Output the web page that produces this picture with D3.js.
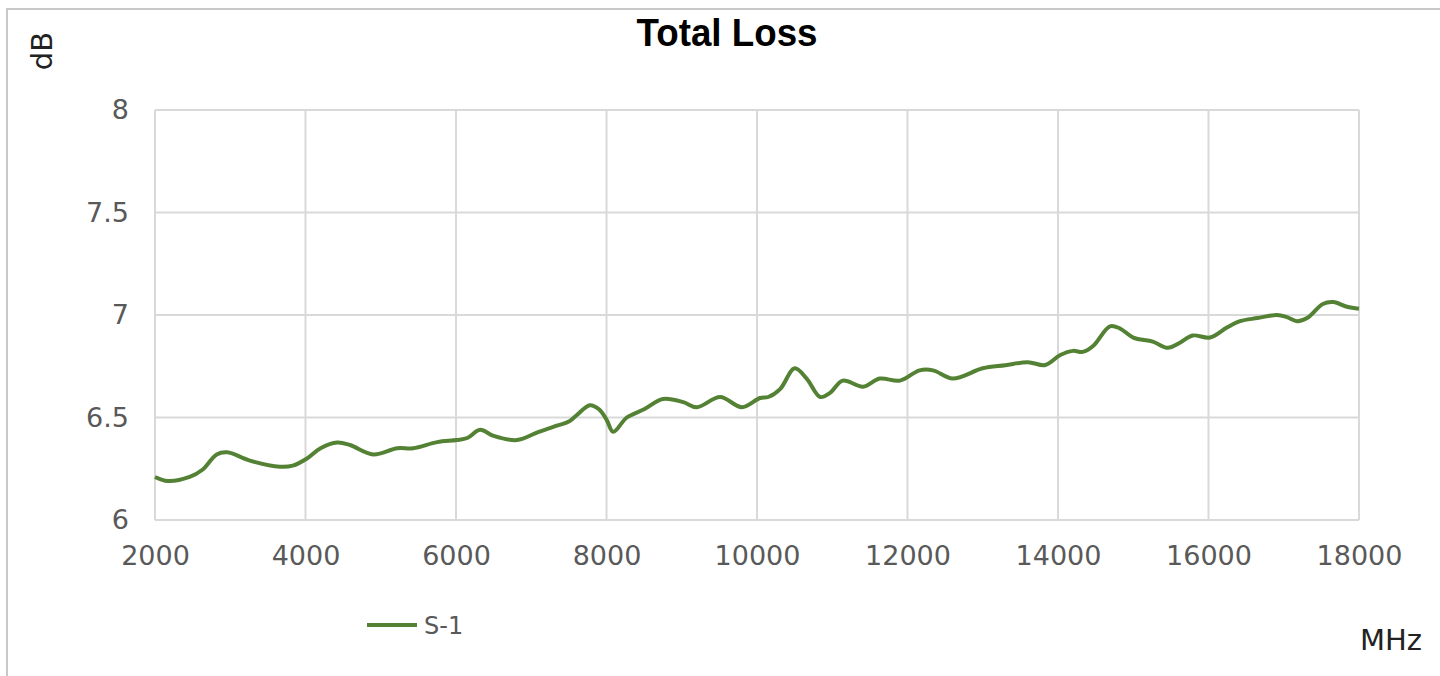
<!DOCTYPE html>
<html>
<head>
<meta charset="utf-8">
<script src="https://cdn.jsdelivr.net/npm/d3@7"></script>
<style>
  body { margin: 0; background: #fff; }
  #chart-area { width: 1440px; height: 676px; }
</style>
</head>
<body>
<div id="chart-area"></div>
<script>
// data (MHz, dB)
var freq = [2000, 2170, 2460, 2630, 2820, 2960, 3260, 3660, 3830, 4020, 4200, 4420, 4590, 4900, 5220, 5430, 5750, 6010, 6150, 6320, 6500, 6810, 7100, 7340, 7500, 7600, 7780, 7900, 8000, 8090, 8270, 8500, 8750, 9020, 9200, 9510, 9800, 10040, 10150, 10310, 10500, 10660, 10840, 10970, 11140, 11410, 11630, 11900, 12160, 12340, 12600, 13000, 13300, 13600, 13830, 14030, 14200, 14330, 14470, 14690, 14820, 15000, 15260, 15460, 15620, 15790, 16020, 16250, 16420, 16650, 16910, 17040, 17180, 17310, 17520, 17660, 17840, 18000];
var loss = [6.21, 6.19, 6.21, 6.245, 6.32, 6.33, 6.29, 6.26, 6.265, 6.30, 6.35, 6.378, 6.366, 6.32, 6.35, 6.35, 6.38, 6.39, 6.40, 6.44, 6.41, 6.39, 6.43, 6.46, 6.48, 6.51, 6.56, 6.54, 6.49, 6.43, 6.50, 6.54, 6.59, 6.575, 6.55, 6.60, 6.55, 6.595, 6.60, 6.64, 6.74, 6.69, 6.60, 6.62, 6.68, 6.65, 6.69, 6.68, 6.73, 6.73, 6.69, 6.74, 6.755, 6.77, 6.756, 6.805, 6.825, 6.82, 6.85, 6.945, 6.935, 6.89, 6.87, 6.84, 6.865, 6.90, 6.89, 6.94, 6.97, 6.985, 7.00, 6.99, 6.97, 6.985, 7.054, 7.063, 7.04, 7.03];
var xTicks = [2000, 4000, 6000, 8000, 10000, 12000, 14000, 16000, 18000];
var yTicks = [6, 6.5, 7, 7.5, 8];
var seriesName = 'S-1';
var title = 'Total Loss';

var width = 1440;
var height = 676;
var lineColor = '#548235';
var gridColor = '#d9d9d9';
var labelColor = '#595959';

var svg = d3.select('#chart-area').append('svg')
  .attr('width', width)
  .attr('height', height);

// outer chart frame
svg.append('rect')
  .attr('x', 7)
  .attr('y', 9)
  .attr('width', width + 20)
  .attr('height', height + 20)
  .attr('fill', 'none')
  .attr('stroke', '#c8c8c8')
  .attr('stroke-width', 2);

// scales
var x = d3.scaleLinear().domain([2000, 18000]).range([155, 1359]);
var y = d3.scaleLinear().domain([6, 8]).range([520, 110]);

// gridlines
svg.append('g')
  .selectAll('line.vgrid')
  .data(xTicks)
  .enter().append('line')
  .attr('class', 'vgrid')
  .attr('x1', d => x(d))
  .attr('x2', d => x(d))
  .attr('y1', y(8))
  .attr('y2', y(6))
  .attr('stroke', gridColor)
  .attr('stroke-width', 2);

svg.append('g')
  .selectAll('line.hgrid')
  .data(yTicks)
  .enter().append('line')
  .attr('class', 'hgrid')
  .attr('x1', x(2000))
  .attr('x2', x(18000))
  .attr('y1', d => y(d))
  .attr('y2', d => y(d))
  .attr('stroke', gridColor)
  .attr('stroke-width', 2);

// axes (labels only, gridlines do the rest)
var xAxis = svg.append('g')
  .attr('transform', 'translate(0,' + y(6) + ')')
  .call(d3.axisBottom(x).tickValues(xTicks).tickSize(0).tickPadding(26).tickFormat(d3.format('d')));
var yAxis = svg.append('g')
  .attr('transform', 'translate(' + x(2000) + ',0)')
  .call(d3.axisLeft(y).tickValues(yTicks).tickSize(0).tickPadding(26).tickFormat(d => d));

[xAxis, yAxis].forEach(a => {
  a.select('.domain').remove();
  a.selectAll('text')
    .attr('fill', labelColor)
    .style('font-family', 'DejaVu Sans, sans-serif')
    .style('font-size', '27px');
});

// the series
var line = d3.line()
  .x((d, i) => x(freq[i]))
  .y(d => y(d))
  .curve(d3.curveCatmullRom.alpha(0.5));

svg.append('path')
  .attr('fill', 'none')
  .attr('stroke', lineColor)
  .attr('stroke-width', 4)
  .attr('stroke-linejoin', 'round')
  .attr('d', line(loss));

// title
svg.append('text')
  .attr('x', 727)
  .attr('y', 46)
  .attr('text-anchor', 'middle')
  .attr('textLength', 181)
  .attr('lengthAdjust', 'spacingAndGlyphs')
  .style('font-family', 'Liberation Sans, Arial, sans-serif')
  .style('font-weight', 'bold')
  .style('font-size', '38px')
  .attr('fill', '#000')
  .text(title);

// axis titles
svg.append('text')
  .attr('transform', 'translate(52,51) rotate(-90)')
  .attr('text-anchor', 'middle')
  .style('font-family', 'DejaVu Sans, sans-serif')
  .style('font-size', '29px')
  .attr('fill', '#222')
  .text('dB');

svg.append('text')
  .attr('x', 1422)
  .attr('y', 650)
  .attr('text-anchor', 'end')
  .style('font-family', 'DejaVu Sans, sans-serif')
  .style('font-size', '29px')
  .attr('fill', '#222')
  .text('MHz');

// legend
svg.append('line')
  .attr('x1', 367)
  .attr('x2', 417)
  .attr('y1', 625)
  .attr('y2', 625)
  .attr('stroke', lineColor)
  .attr('stroke-width', 4);

svg.append('text')
  .attr('x', 424)
  .attr('y', 634)
  .style('font-family', 'DejaVu Sans, sans-serif')
  .style('font-size', '24px')
  .attr('fill', labelColor)
  .text(seriesName);
</script>
</body>
</html>
